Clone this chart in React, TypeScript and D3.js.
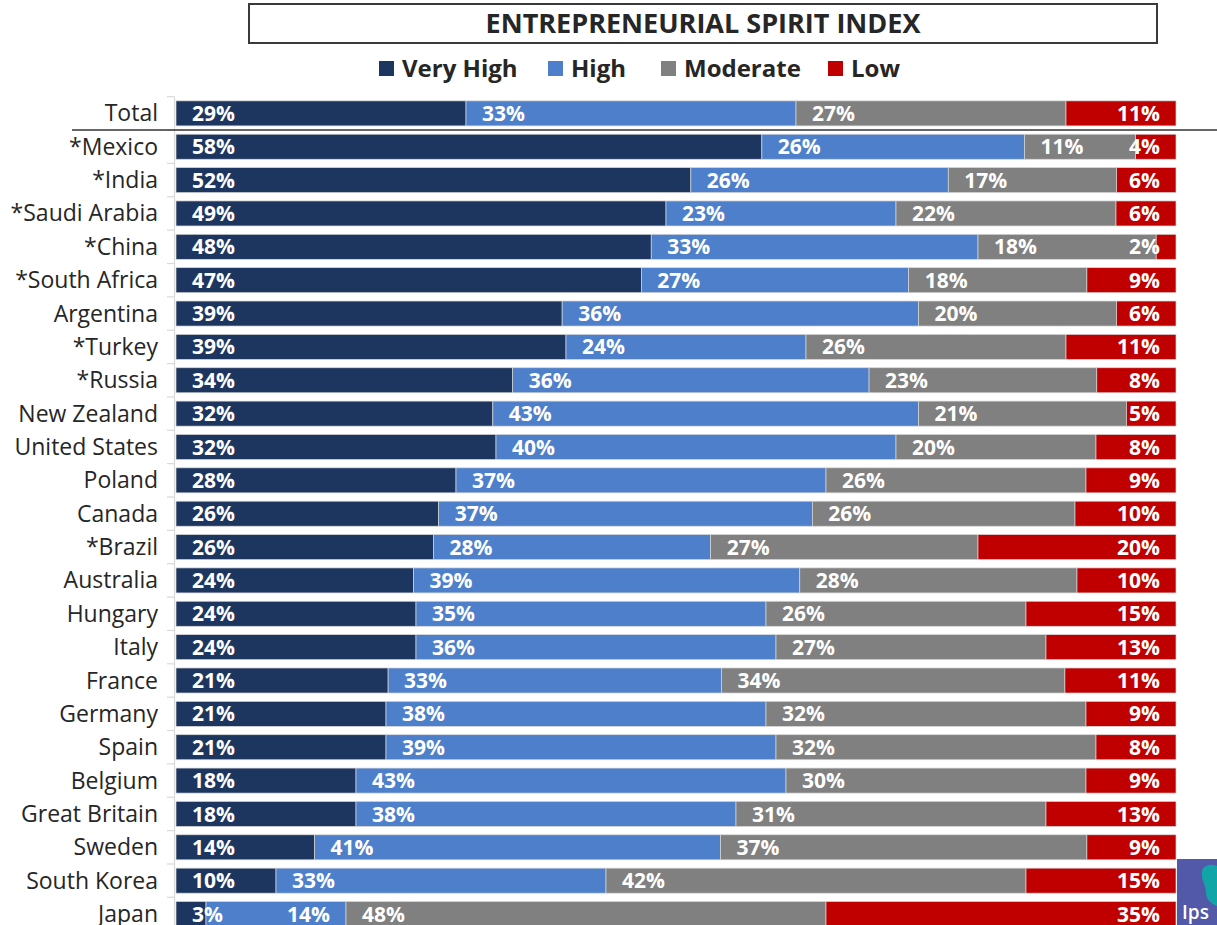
import * as d3 from 'd3';

const categories = [
  'Total', '*Mexico', '*India', '*Saudi Arabia', '*China', '*South Africa', 'Argentina',
  '*Turkey', '*Russia', 'New Zealand', 'United States', 'Poland', 'Canada', '*Brazil',
  'Australia', 'Hungary', 'Italy', 'France', 'Germany', 'Spain', 'Belgium',
  'Great Britain', 'Sweden', 'South Korea', 'Japan',
];

const seriesNames = ['Very High', 'High', 'Moderate', 'Low'];

const veryHigh = [29, 58, 52, 49, 48, 47, 39, 39, 34, 32, 32, 28, 26, 26, 24, 24, 24, 21, 21, 21, 18, 18, 14, 10, 3];
const high = [33, 26, 26, 23, 33, 27, 36, 24, 36, 43, 40, 37, 37, 28, 39, 35, 36, 33, 38, 39, 43, 38, 41, 33, 14];
const moderate = [27, 11, 17, 22, 18, 18, 20, 26, 23, 21, 20, 26, 26, 27, 28, 26, 27, 34, 32, 32, 30, 31, 37, 42, 48];
const low = [11, 4, 6, 6, 2, 9, 6, 11, 8, 5, 8, 9, 10, 20, 10, 15, 13, 11, 9, 8, 9, 13, 9, 15, 35];

const colors = ['#1d365f', '#4d7fcb', '#808080', '#c00000'];

const W = 1217;
const H = 925;
const FONT = '"Open Sans", "DejaVu Sans", sans-serif';
const plot = { left: 176, right: 1176, top: 96.7, step: 33.36 };
const legendX = [379, 548, 661, 828];
const LABEL_FS = 21;

// rough width of a bold value label, used only to avoid overlaps
const labelWidth = (s: string) => s.split('').reduce((w, c) => w + (c === '%' ? 0.9 : 0.575), 0) * LABEL_FS;

export default function App() {
  const rows = categories.map((name, i) => ({
    name,
    'Very High': veryHigh[i],
    High: high[i],
    Moderate: moderate[i],
    Low: low[i],
  }));

  // each row is drawn as shares of its own total
  const stacked = d3.stack<any>().keys(seriesNames).offset(d3.stackOffsetExpand)(rows);

  const y = d3.scaleBand<string>()
    .domain(categories)
    .range([plot.top, plot.top + categories.length * plot.step])
    .paddingInner(0.25)
    .paddingOuter(0.125);
  const x = d3.scaleLinear().domain([0, 1]).range([plot.left, plot.right]);
  const bw = y.bandwidth();

  // label placement per row
  const labels: { key: string; x: number; y: number; anchor: string; text: string }[] = [];
  categories.forEach((cat, ri) => {
    const cy = (y(cat) ?? 0) + bw / 2 + LABEL_FS * 0.36;
    let prevEnd = -Infinity;
    stacked.forEach((s, si) => {
      const d = s[ri];
      const text = `${rows[ri][seriesNames[si] as 'High']}%`;
      const w = labelWidth(text);
      if (si === 3) {
        labels.push({ key: `${cat}-${si}`, x: plot.right - 16, y: cy, anchor: 'end', text });
        return;
      }
      let lx = x(d[0]) + 16;
      if (lx < prevEnd + 4) lx = x(d[1]) - 16 - w;
      labels.push({ key: `${cat}-${si}`, x: lx, y: cy, anchor: 'start', text });
      prevEnd = lx + w;
    });
  });

  const sepY = (y('Total') ?? 0) + bw + (plot.step - bw) / 2;

  return (
    <svg width={W} height={H} style={{ position: 'absolute', left: 0, top: 0 }} fontFamily={FONT}>
      <rect width={W} height={H} fill="#ffffff" />

      {/* title */}
      <rect x={249} y={4} width={908} height={39} fill="#ffffff" stroke="#3a3a3a" strokeWidth={2} />
      <text x={703} y={33} textAnchor="middle" fontSize={27} fontWeight={700} fill="#262626">
        ENTREPRENEURIAL SPIRIT INDEX
      </text>

      {/* legend */}
      {seriesNames.map((name, i) => (
        <g key={name}>
          <rect x={legendX[i]} y={61} width={15} height={15} fill={colors[i]} />
          <text x={legendX[i] + 23} y={77} fontSize={24} fontWeight={700} fill="#262626">{name}</text>
        </g>
      ))}

      {/* category axis */}
      <line x1={174.5} x2={174.5} y1={plot.top} y2={H} stroke="#d9d9d9" strokeWidth={1.2} />
      {d3.range(categories.length + 1).map((i) => (
        <line key={i} x1={167} x2={174.5} y1={plot.top + i * plot.step} y2={plot.top + i * plot.step} stroke="#d9d9d9" strokeWidth={1.2} />
      ))}
      {categories.map((cat) => (
        <text key={cat} x={158} y={(y(cat) ?? 0) + bw / 2 + 8} textAnchor="end" fontSize={23} fill="#262626">
          {cat}
        </text>
      ))}

      {/* bars */}
      {stacked.map((s, si) => (
        <g key={s.key} fill={colors[si]}>
          {s.map((d, ri) => (
            <rect
              key={categories[ri]}
              x={x(d[0])}
              y={y(categories[ri])}
              width={x(d[1]) - x(d[0])}
              height={bw}
              stroke="#d6d6d6"
              strokeWidth={0.7}
            />
          ))}
        </g>
      ))}

      {labels.map((l) => (
        <text key={l.key} x={l.x} y={l.y} textAnchor={l.anchor} fontSize={LABEL_FS} fontWeight={700} fill="#ffffff">
          {l.text}
        </text>
      ))}

      {/* separator under Total */}
      <line x1={72} x2={W} y1={sepY} y2={sepY} stroke="#333333" strokeWidth={1.5} />

      {/* logo fragment */}
      <g>
        <rect x={1177} y={859} width={40} height={66} fill="#5159a8" />
        <path d="M1203,868 C1210,862 1217,866 1217,866 L1217,906 C1212,904 1206,900 1206,892 C1206,884 1199,878 1203,868 Z" fill="#12a5a8" />
        <text x={1182} y={919} fontSize={19} fontWeight={600} fill="#ffffff">Ips</text>
      </g>
    </svg>
  );
}
